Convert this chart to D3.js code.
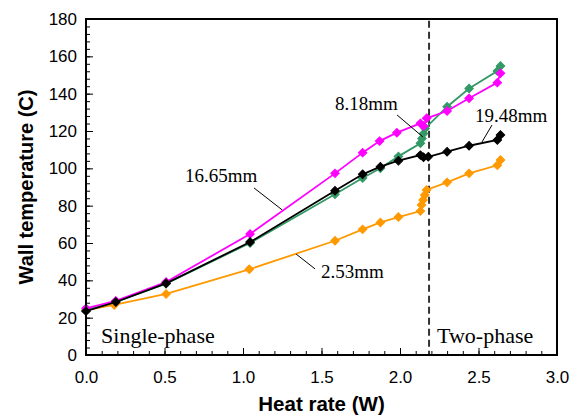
<!DOCTYPE html>
<html>
<head>
<meta charset="utf-8">
<script src="https://cdn.jsdelivr.net/npm/d3@7"></script>
<style>
  body { margin: 0; background: #fff; }
  svg { display: block; }
</style>
</head>
<body>
<svg id="chart"></svg>
<script>
// heat rate (W) and wall temperature (C) for each diameter
var x253 = [0, 0.18, 0.51, 1.04, 1.586, 1.762, 1.875, 1.99, 2.13, 2.137, 2.147, 2.158, 2.169, 2.30, 2.44, 2.62, 2.64];
var t253 = [24, 26.8, 32.7, 45.9, 61.2, 67.3, 71.0, 73.9, 77.1, 80.4, 83.0, 85.7, 88.4, 92.5, 97.3, 101.6, 104.5];

var x818 = [0, 0.19, 0.51, 1.045, 1.586, 1.762, 1.875, 1.99, 2.13, 2.14, 2.15, 2.16, 2.30, 2.44, 2.62, 2.64];
var t818 = [24, 28.5, 38.2, 60.0, 86.1, 94.8, 100, 106.4, 113.4, 116, 118.6, 121.4, 133.0, 142.8, 152.1, 154.8];

var x1665 = [0, 0.19, 0.51, 1.045, 1.586, 1.762, 1.87, 1.98, 2.13, 2.15, 2.17, 2.30, 2.44, 2.62, 2.64];
var t1665 = [25, 29, 39.1, 64.8, 97.3, 108.4, 114.6, 119.1, 124.1, 122.7, 126.8, 130.7, 137.5, 145.9, 150.9];

var x1948 = [0, 0.19, 0.51, 1.045, 1.586, 1.762, 1.875, 1.99, 2.13, 2.15, 2.18, 2.30, 2.44, 2.62, 2.64];
var t1948 = [23.5, 28.4, 38.4, 60.5, 88.0, 96.8, 100.9, 104.1, 107.1, 105.9, 106.2, 108.9, 112.1, 115.2, 117.9];

var xTicks = [0, 0.5, 1.0, 1.5, 2.0, 2.5, 3.0];
var yTicks = [0, 20, 40, 60, 80, 100, 120, 140, 160, 180];
var transition = 2.185;

var series = [
  { name: "2.53mm", x: x253, y: t253, color: "#ff9900" },
  { name: "8.18mm", x: x818, y: t818, color: "#339966" },
  { name: "16.65mm", x: x1665, y: t1665, color: "#ff00ff" },
  { name: "19.48mm", x: x1948, y: t1948, color: "#000000" }
];

// label text position and leader line, in data units
var labels = [
  { text: "16.65mm", tx: 0.63, ty: 92.7, l: [1.07, 89.5, 1.25, 77.7] },
  { text: "2.53mm", tx: 1.497, ty: 41.2, l: [1.338, 54.1, 1.459, 46.1] },
  { text: "8.18mm", tx: 1.586, ty: 131.2, l: [1.981, 128.6, 2.146, 116.8] },
  { text: "19.48mm", tx: 2.478, ty: 124.8, l: [2.586, 123.2, 2.522, 114.1] }
];

var width = 583, height = 420;
var margin = { top: 19, right: 26, bottom: 65, left: 86 };

var svg = d3.select("#chart").attr("width", width).attr("height", height);

var x = d3.scaleLinear().domain([0, 3]).range([margin.left, width - margin.right]);
var y = d3.scaleLinear().domain([0, 180]).range([height - margin.bottom, margin.top]);

var sans = "'Liberation Sans', Arial, sans-serif";
var serif = "'Liberation Serif', 'Times New Roman', serif";

// minor ticks
svg.append("g")
  .attr("transform", "translate(0," + y(0) + ")")
  .call(d3.axisBottom(x).tickValues(d3.range(0, 3.001, 0.1)).tickSizeInner(-4).tickSizeOuter(0).tickFormat(""))
  .call(g => g.select(".domain").remove());
svg.append("g")
  .attr("transform", "translate(" + x(0) + ",0)")
  .call(d3.axisLeft(y).tickValues(d3.range(0, 181, 4)).tickSizeInner(-4).tickSizeOuter(0).tickFormat(""))
  .call(g => g.select(".domain").remove());

// major ticks and labels
var xAxis = svg.append("g")
  .attr("transform", "translate(0," + y(0) + ")")
  .call(d3.axisBottom(x).tickValues(xTicks).tickSizeInner(-7).tickSizeOuter(0).tickPadding(16).tickFormat(d3.format(".1f")));
xAxis.select(".domain").remove();
xAxis.selectAll("text").attr("font-family", sans).attr("font-size", 17).attr("fill", "#000");

var yAxis = svg.append("g")
  .attr("transform", "translate(" + x(0) + ",0)")
  .call(d3.axisLeft(y).tickValues(yTicks).tickSizeInner(-7).tickSizeOuter(0).tickPadding(9));
yAxis.select(".domain").remove();
yAxis.selectAll("text").attr("font-family", sans).attr("font-size", 17).attr("fill", "#000");

svg.selectAll(".tick line").attr("stroke", "#000").attr("stroke-width", 1);

// transition line
svg.append("line")
  .attr("x1", x(transition)).attr("x2", x(transition))
  .attr("y1", y(179)).attr("y2", y(0))
  .attr("stroke", "#333").attr("stroke-width", 2)
  .attr("stroke-dasharray", "7,4");

// series
var line = d3.line().x(d => x(d[0])).y(d => y(d[1]));
var marker = d3.symbol().type(d3.symbolSquare).size(36);

series.forEach(function(s) {
  var pts = s.x.map((v, i) => [v, s.y[i]]);
  var g = svg.append("g");
  g.append("path")
    .datum(pts)
    .attr("d", line)
    .attr("fill", "none")
    .attr("stroke", s.color)
    .attr("stroke-width", 1.8);
  g.selectAll("path.pt")
    .data(pts)
    .enter()
    .append("path")
    .attr("class", "pt")
    .attr("d", marker)
    .attr("transform", d => "translate(" + x(d[0]) + "," + y(d[1]) + ") rotate(45)")
    .attr("fill", s.color)
    .attr("stroke", s.color)
    .attr("stroke-width", 1);
});

// labels
labels.forEach(function(l) {
  svg.append("line")
    .attr("x1", x(l.l[0])).attr("y1", y(l.l[1]))
    .attr("x2", x(l.l[2])).attr("y2", y(l.l[3]))
    .attr("stroke", "#000").attr("stroke-width", 1);
  svg.append("text")
    .attr("x", x(l.tx)).attr("y", y(l.ty))
    .attr("font-family", serif).attr("font-size", 19)
    .text(l.text);
});

svg.append("text")
  .attr("x", x(0.096)).attr("y", y(6.4))
  .attr("font-family", serif).attr("font-size", 22)
  .text("Single-phase");
svg.append("text")
  .attr("x", x(2.236)).attr("y", y(6.4))
  .attr("font-family", serif).attr("font-size", 22)
  .text("Two-phase");

// frame
svg.append("rect")
  .attr("x", x(0)).attr("y", y(180))
  .attr("width", x(3) - x(0)).attr("height", y(0) - y(180))
  .attr("fill", "none").attr("stroke", "#000").attr("stroke-width", 2);

// axis titles
svg.append("text")
  .attr("x", (x(0) + x(3)) / 2).attr("y", 411)
  .attr("text-anchor", "middle")
  .attr("font-family", sans).attr("font-weight", "bold").attr("font-size", 20.5)
  .text("Heat rate (W)");
svg.append("text")
  .attr("transform", "translate(33," + (y(0) + y(180)) / 2 + ") rotate(-90)")
  .attr("text-anchor", "middle")
  .attr("font-family", sans).attr("font-weight", "bold").attr("font-size", 20)
  .text("Wall temperature (C)");
</script>
</body>
</html>
